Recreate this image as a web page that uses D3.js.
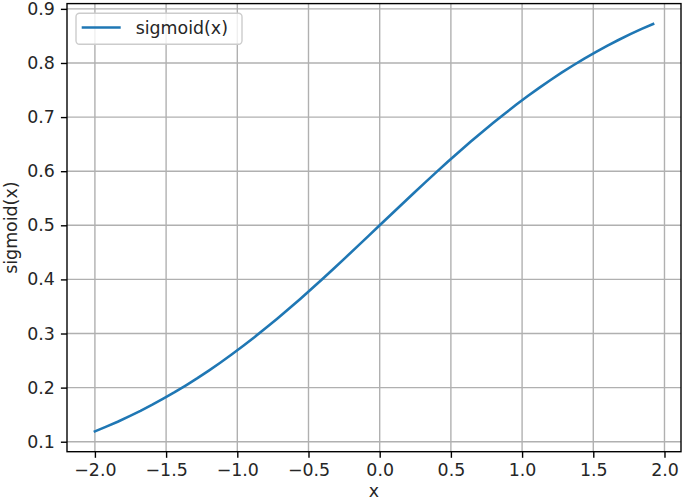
<!DOCTYPE html>
<html><head><meta charset="utf-8">
<script src="https://cdn.jsdelivr.net/npm/d3@7"></script>
<style>body{margin:0;background:#fff}svg{display:block}text{font-family:"DejaVu Sans",sans-serif;fill:#262626}</style>
</head><body>
<script>
const xValues = [-2.00,-1.92,-1.84,-1.76,-1.68,-1.60,-1.52,-1.44,-1.36,-1.28,-1.20,-1.12,-1.04,-0.96,-0.88,-0.80,-0.72,-0.64,-0.56,-0.48,-0.40,-0.32,-0.24,-0.16,-0.08,0.00,0.08,0.16,0.24,0.32,0.40,0.48,0.56,0.64,0.72,0.80,0.88,0.96,1.04,1.12,1.20,1.28,1.36,1.44,1.52,1.60,1.68,1.76,1.84,1.92];
const yValues = [0.1192,0.1279,0.1370,0.1468,0.1571,0.1680,0.1795,0.1915,0.2042,0.2175,0.2315,0.2460,0.2611,0.2769,0.2932,0.3100,0.3274,0.3452,0.3635,0.3822,0.4013,0.4207,0.4403,0.4601,0.4800,0.5000,0.5200,0.5399,0.5597,0.5793,0.5987,0.6178,0.6365,0.6548,0.6726,0.6900,0.7068,0.7231,0.7389,0.7540,0.7685,0.7825,0.7958,0.8085,0.8205,0.8320,0.8429,0.8532,0.8630,0.8721];
const xTicks = [-2.0,-1.5,-1.0,-0.5,0.0,0.5,1.0,1.5,2.0];
const yTicks = [0.1,0.2,0.3,0.4,0.5,0.6,0.7,0.8,0.9];
const seriesLabel = "sigmoid(x)";
const xLabel = "x", yLabel = "sigmoid(x)";

const W = 685, H = 501;
const L = 67, R = 681, T = 3.6, B = 451.7;
const FS = 17.4;
const svg = d3.select("body").append("svg").attr("width", W).attr("height", H);

const xmin = d3.min(xValues), xmax = d3.max(xValues), ymin = d3.min(yValues), ymax = d3.max(yValues);
const xm = (xmax - xmin) * 0.05, ym = (ymax - ymin) * 0.05;
const x = d3.scaleLinear().domain([xmin - xm, xmax + xm]).range([L, R]);
const y = d3.scaleLinear().domain([ymin - ym, ymax + ym]).range([B, T]);

const fmt = d => d3.format(".1f")(d).replace("-", "\u2212");

// grid
const g = svg.append("g");
g.selectAll(".gx").data(xTicks).join("line")
  .attr("x1", d => x(d)).attr("x2", d => x(d)).attr("y1", T).attr("y2", B)
  .attr("stroke", "#b0b0b0").attr("stroke-width", 1.39);
g.selectAll(".gy").data(yTicks).join("line")
  .attr("y1", d => y(d)).attr("y2", d => y(d)).attr("x1", L).attr("x2", R)
  .attr("stroke", "#b0b0b0").attr("stroke-width", 1.39);

// line
const line = d3.line().x((d, i) => x(xValues[i])).y(d => y(d));
svg.append("path").datum(yValues).attr("d", line).attr("fill", "none")
  .attr("stroke", "#1f77b4").attr("stroke-width", 2.6).attr("stroke-linejoin", "round").attr("stroke-linecap", "square");

// axes
const xAxis = d3.axisBottom(x).tickValues(xTicks).tickFormat(fmt).tickSize(6.1).tickPadding(6.1);
const yAxis = d3.axisLeft(y).tickValues(yTicks).tickFormat(fmt).tickSize(6.1).tickPadding(6.1);
const ax = svg.append("g").attr("transform", `translate(0,${B})`).call(xAxis);
const ay = svg.append("g").attr("transform", `translate(${L},0)`).call(yAxis);
[ax, ay].forEach(a => {
  a.select(".domain").remove();
  a.selectAll(".tick line").attr("stroke", "#000").attr("stroke-width", 1.39);
  a.selectAll(".tick text").attr("font-size", FS).attr("font-family", "DejaVu Sans").attr("fill", "#262626");
});

// spines
svg.append("rect").attr("x", L).attr("y", T).attr("width", R - L).attr("height", B - T)
  .attr("fill", "none").attr("stroke", "#000").attr("stroke-width", 1.39);

// labels
svg.append("text").attr("x", (L + R) / 2).attr("y", 496.5).attr("text-anchor", "middle").attr("font-size", FS).text(xLabel);
svg.append("text").attr("transform", `translate(16.5,${(T + B) / 2}) rotate(-90)`).attr("text-anchor", "middle").attr("font-size", FS).text(yLabel);

// legend
const lg = svg.append("g");
lg.append("rect").attr("x", 76).attr("y", 13.3).attr("width", 166).attr("height", 31).attr("rx", 3.5)
  .attr("fill", "#fff").attr("fill-opacity", 0.8).attr("stroke", "#cccccc").attr("stroke-width", 1.39);
lg.append("line").attr("x1", 81.7).attr("x2", 120.7).attr("y1", 27.5).attr("y2", 27.5)
  .attr("stroke", "#1f77b4").attr("stroke-width", 2.6);
lg.append("text").attr("x", 135.7).attr("y", 34).attr("font-size", FS).text(seriesLabel);
</script>
</body></html>
